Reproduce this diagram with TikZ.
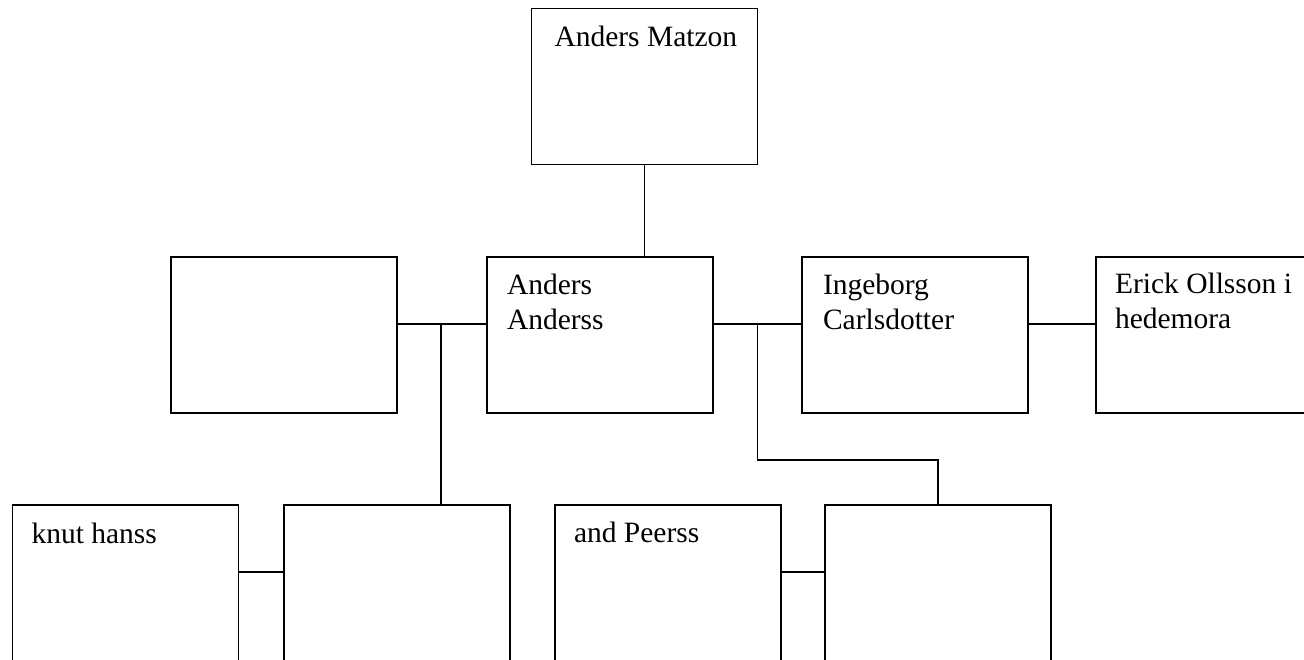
\documentclass[tikz,border=0pt]{standalone}
\usepackage{fontspec}
\setmainfont{Liberation Serif}
\usetikzlibrary{calc}
\newcommand{\twoline}[2]{\begin{tabular}[t]{@{}l@{}}#1\\#2\end{tabular}}
\tikzset{
  famebox/.style={draw, line width=1.8pt, minimum width=226pt, minimum height=156pt,
    inner sep=0pt, outer sep=0pt, anchor=north west},
  nametext/.style={anchor=base west, inner sep=0pt, outer sep=0pt,
    font=\fontsize{29.5}{35}\selectfont},
  link/.style={line width=1.3pt}
}
\begin{document}
\begin{tikzpicture}[x=1pt,y=-1pt]
\clip (0,0) rectangle (1304,660);
\fill[white] (0,0) rectangle (1304,660);
% boxes
\node[famebox] (AM) at (531.5,8.5) {};
\node[famebox] (L)  at (171,257) {};
\node[famebox] (AA) at (487,257) {};
\node[famebox] (IC) at (802,257) {};
\node[famebox] (EO) at (1096,257) {};
\node[famebox] (KH) at (12.5,505) {};
\node[famebox] (E1) at (284,505) {};
\node[famebox] (AP) at (555,505) {};
\node[famebox] (E2) at (825,505) {};
% texts
\node[nametext] (tAM) at ($(AM.north west)+(23,38)$) {Anders Matzon};
\node[nametext] (tAA) at ($(AA.north west)+(20,38)$) {\twoline{Anders}{Anderss}};
\node[nametext] (tIC) at ($(IC.north west)+(21,38)$) {\twoline{Ingeborg}{Carlsdotter}};
\node[nametext] (tEO) at ($(EO.north west)+(19,36.5)$) {\twoline{Erick Ollsson i}{hedemora}};
\node[nametext] (tKH) at ($(KH.north west)+(19,38)$) {knut hanss};
\node[nametext] (tAP) at ($(AP.north west)+(19,37)$) {and Peerss};
% connectors
\coordinate (r1) at (0,324);
\coordinate (r2) at (0,572);
\coordinate (b1) at (441,324);
\coordinate (b2) at (757.5,324);
\coordinate (k2) at (757.5,460);
\draw[link] (AM.south) -- (AM.south |- AA.north);
\draw[link] (L.east |- r1) -- (AA.west |- r1);
\draw[link] (b1) -- (b1 |- E1.north);
\draw[link] (AA.east |- r1) -- (IC.west |- r1);
\draw[link] (b2) -- (k2) -| (E2.north);
\draw[link] (IC.east |- r1) -- (EO.west |- r1);
\draw[link] (KH.east |- r2) -- (E1.west |- r2);
\draw[link] (AP.east |- r2) -- (E2.west |- r2);
\end{tikzpicture}
\end{document}
